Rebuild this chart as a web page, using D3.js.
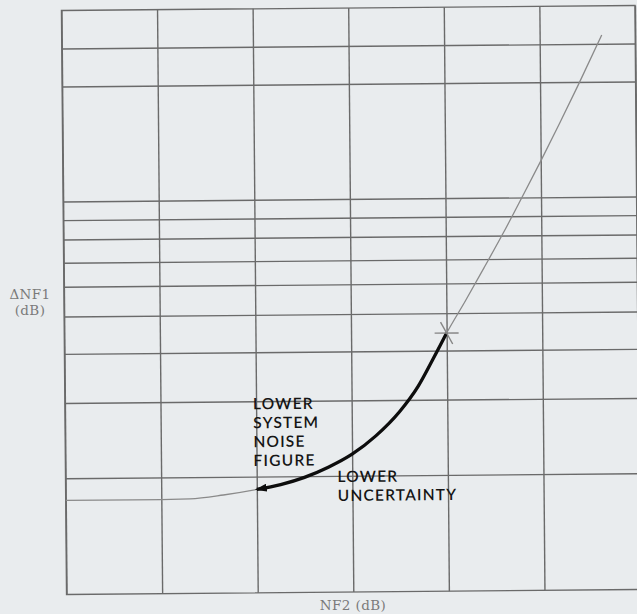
<!DOCTYPE html>
<html>
<head>
<meta charset="utf-8">
<script src="https://cdn.jsdelivr.net/npm/d3@7"></script>
<style>
  html, body { margin: 0; padding: 0; background: #e9ecee; }
  #chart { width: 637px; height: 614px; overflow: hidden; }
  .grid line { stroke: #6a6a6a; stroke-width: 1.4; }
  .grid .domain { display: none; }
  .frame { fill: none; stroke: #6a6a6a; stroke-width: 1.4; }
  .axis-label { font-family: "DejaVu Serif", serif; font-size: 13.5px; fill: #7a7a7a; letter-spacing: 0.4px; }
  .note { font-family: Lato, sans-serif; font-size: 15.5px; font-weight: 600; fill: #151515; letter-spacing: 1.2px; }
</style>
</head>
<body>
<div id="chart"></div>
<script>
// grid positions (the original has no tick labels)
const nf2Grid = [0, 1, 2, 3, 4, 5, 6];
const dnf1Grid = [1.99, 3.28, 4.12, 4.76, 5.27, 5.68, 6.08, 6.41, 6.73, 8.70, 9.35];

// curve
const nf2 = [0, 0.70, 1.30, 1.65, 2.00, 2.25, 2.50, 2.75, 3.00, 3.25, 3.50, 3.70, 3.85, 4.00, 4.20, 4.40, 4.60, 4.80, 5.00, 5.20, 5.40, 5.65];
const dnf1 = [1.61, 1.61, 1.62, 1.68, 1.77, 1.85, 1.97, 2.14, 2.36, 2.67, 3.08, 3.52, 3.96, 4.42, 4.97, 5.54, 6.12, 6.73, 7.35, 7.99, 8.65, 9.50];

// operating point and the stretch drawn with the arrow
const markNF2 = 4;
const arrowRange = [2, 4];

// annotation texts
const noteNoise = ["LOWER", "SYSTEM", "NOISE", "FIGURE"];
const noteUncert = ["LOWER", "UNCERTAINTY"];

const chart = d3.select("#chart");

const margins = { top: 8, right: -0.5, bottom: 22, left: 64 };
const totalWidth = 637;
const totalHeight = 614;
const chartWidth = totalWidth - margins.left - margins.right;
const chartHeight = totalHeight - margins.top - margins.bottom;

const root = chart
  .append("svg")
  .attr("width", totalWidth)
  .attr("height", totalHeight);

// the scan is a little tilted
const svg = root
  .append("g")
  .attr("transform", `translate(${margins.left}, ${margins.top}) rotate(-0.5, ${chartWidth / 2}, ${chartHeight / 2})`);

const x = d3.scaleLinear().domain([0, 6]).range([0, chartWidth]);
const y = d3.scaleLinear().domain([0, 10]).range([chartHeight, 0]);

// grid via axes with long ticks
svg
  .append("g")
  .attr("class", "grid")
  .attr("transform", `translate(0, ${chartHeight})`)
  .call(d3.axisBottom(x).tickValues(nf2Grid).tickSize(-chartHeight).tickFormat(""));

svg
  .append("g")
  .attr("class", "grid")
  .call(d3.axisLeft(y).tickValues(dnf1Grid).tickSize(-chartWidth).tickFormat(""));

svg
  .append("rect")
  .attr("class", "frame")
  .attr("width", chartWidth)
  .attr("height", chartHeight);

const points = nf2.map((d, i) => ({ nf2: d, dnf1: dnf1[i] }));

const line = d3
  .line()
  .x((d) => x(d.nf2))
  .y((d) => y(d.dnf1))
  .curve(d3.curveMonotoneX);

svg
  .append("path")
  .datum(points)
  .attr("d", line)
  .attr("fill", "none")
  .attr("stroke", "#8a8a8a")
  .attr("stroke-width", 1.3);

// arrow head
root
  .append("defs")
  .append("marker")
  .attr("id", "head")
  .attr("markerUnits", "userSpaceOnUse")
  .attr("viewBox", "0 0 12 8")
  .attr("markerWidth", 12)
  .attr("markerHeight", 8)
  .attr("refX", 10)
  .attr("refY", 4)
  .attr("orient", "auto-start-reverse")
  .append("path")
  .attr("d", "M0,0 L12,4 L0,8 Z")
  .attr("fill", "#0d0d0d");

svg
  .append("path")
  .datum(points.filter((d) => d.nf2 >= arrowRange[0] && d.nf2 <= arrowRange[1]))
  .attr("d", line)
  .attr("fill", "none")
  .attr("stroke", "#0d0d0d")
  .attr("stroke-width", 3.3)
  .attr("marker-start", "url(#head)");

// cross at the operating point
const op = points.find((d) => d.nf2 === markNF2);
const mark = svg
  .append("g")
  .attr("transform", `translate(${x(op.nf2)}, ${y(op.dnf1)})`)
  .attr("stroke", "#858585")
  .attr("stroke-width", 1.4);
mark.append("line").attr("x1", -12).attr("x2", 12);
mark.append("line").attr("x1", -6).attr("y1", -11).attr("x2", 6).attr("y2", 11);

// notes, one text per line
const addNote = (lines, left, top) => {
  svg
    .append("g")
    .selectAll("text")
    .data(lines)
    .join("text")
    .attr("class", "note")
    .attr("x", left)
    .attr("y", (d, i) => top + i * 18.9)
    .text((d) => d);
};
addNote(noteNoise, x(arrowRange[0]) - 3, 400.5);
addNote(noteUncert, 272, 474);

// axis titles
root
  .append("text")
  .attr("class", "axis-label")
  .attr("text-anchor", "middle")
  .selectAll("tspan")
  .data(["ΔNF1", "(dB)"])
  .join("tspan")
  .attr("x", 30)
  .attr("y", (d, i) => 299 + i * 16)
  .text((d) => d);

root
  .append("text")
  .attr("class", "axis-label")
  .attr("text-anchor", "middle")
  .attr("x", 353)
  .attr("y", 610)
  .text("NF2 (dB)");
</script>
</body>
</html>
